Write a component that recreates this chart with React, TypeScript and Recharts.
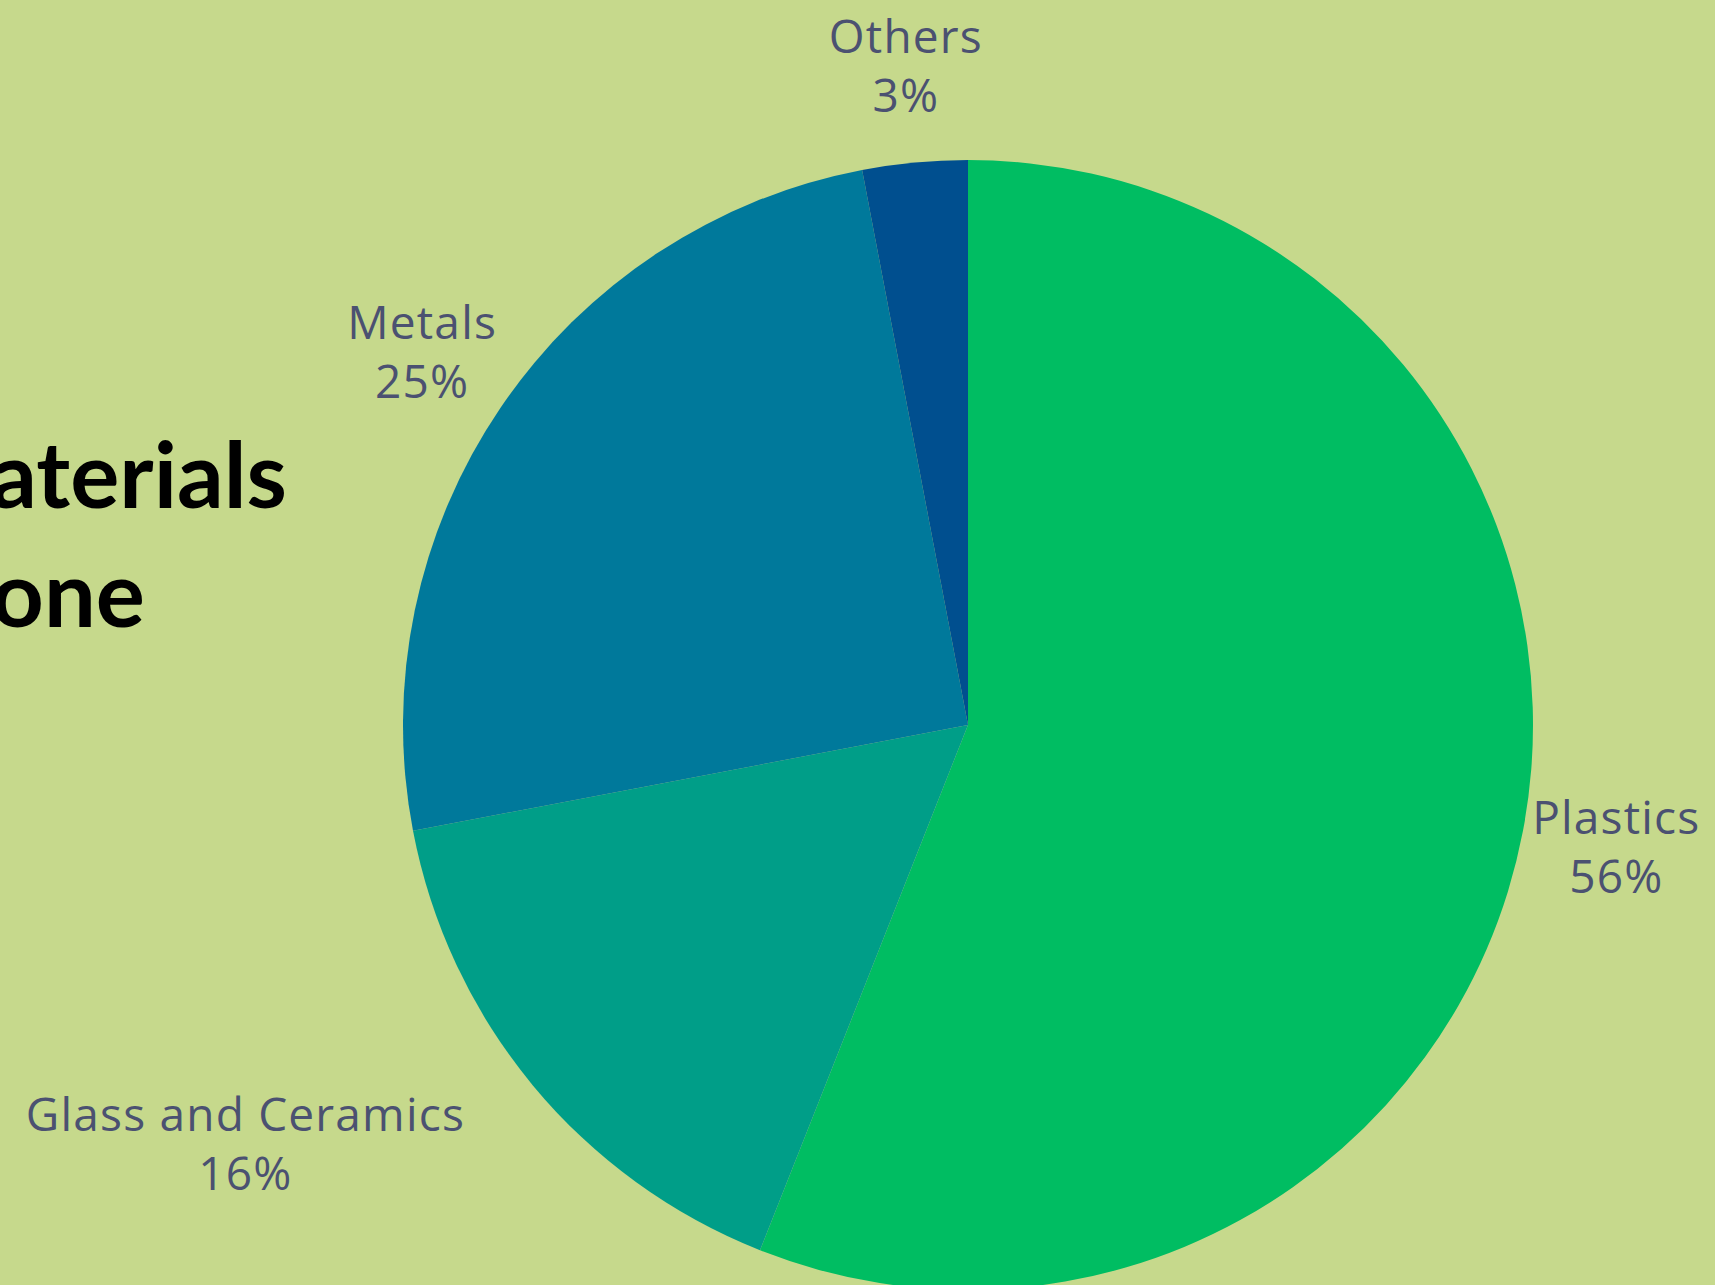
import { PieChart, Pie, Cell } from 'recharts';

const categories = ['Plastics', 'Glass and Ceramics', 'Metals', 'Others'];
const shares = [56, 16, 25, 3];
const sliceColors = ['#00bd62', '#009e88', '#00799b', '#004f8f'];

const titleLines = ['Materials', 'Phone'];

const chartData = categories.map((name, i) => ({ name, value: shares[i] }));

const RADIAN = Math.PI / 180;
const LABEL_FONT = '"Open Sans", "Noto Sans", sans-serif';

// the lower-left label sits with its right edge on the label point
const endAnchored: Record<string, number> = { 'Glass and Ceramics': 214 };

const renderLabel = (props: any) => {
    const { cx, cy, midAngle, outerRadius, name, value } = props;
    const r = outerRadius + 95;
    let x = cx + r * Math.cos(-midAngle * RADIAN);
    const y = cy + r * Math.sin(-midAngle * RADIAN);
    if (endAnchored[name]) x -= endAnchored[name];
    return (
        <text
            x={x}
            y={y}
            textAnchor="middle"
            fill="#4b5171"
            fontFamily={LABEL_FONT}
            fontSize={46}
            letterSpacing={1.2}
        >
            <tspan x={x} y={y - 15}>{name}</tspan>
            <tspan x={x} y={y + 44}>{`${value}%`}</tspan>
        </text>
    );
};

export default function App() {
    return (
        <div
            style={{
                position: 'absolute',
                left: 0,
                top: 0,
                width: 1715,
                height: 1285,
                overflow: 'hidden',
                background: '#c6d98c',
            }}
        >
            <svg width={1715} height={1285} style={{ position: 'absolute', left: 0, top: 0 }}>
                <text
                    textAnchor="end"
                    fontFamily='Lato, "Open Sans", sans-serif'
                    fontWeight={700}
                    fontSize={92}
                    fill="#000"
                >
                    <tspan x={287} y={508}>{titleLines[0]}</tspan>
                    <tspan x={145} y={627}>{titleLines[1]}</tspan>
                </text>
            </svg>
            <div style={{ position: 'absolute', left: 0, top: 0 }}>
                <PieChart width={1715} height={1285}>
                    <Pie
                        data={chartData}
                        dataKey="value"
                        nameKey="name"
                        cx={963}
                        cy={720}
                        outerRadius={565}
                        startAngle={90}
                        endAngle={-270}
                        stroke="none"
                        label={renderLabel}
                        labelLine={false}
                        isAnimationActive={false}
                    >
                        {chartData.map((entry, index) => (
                            <Cell key={`cell-${index}`} fill={sliceColors[index]} />
                        ))}
                    </Pie>
                </PieChart>
            </div>
        </div>
    );
}
